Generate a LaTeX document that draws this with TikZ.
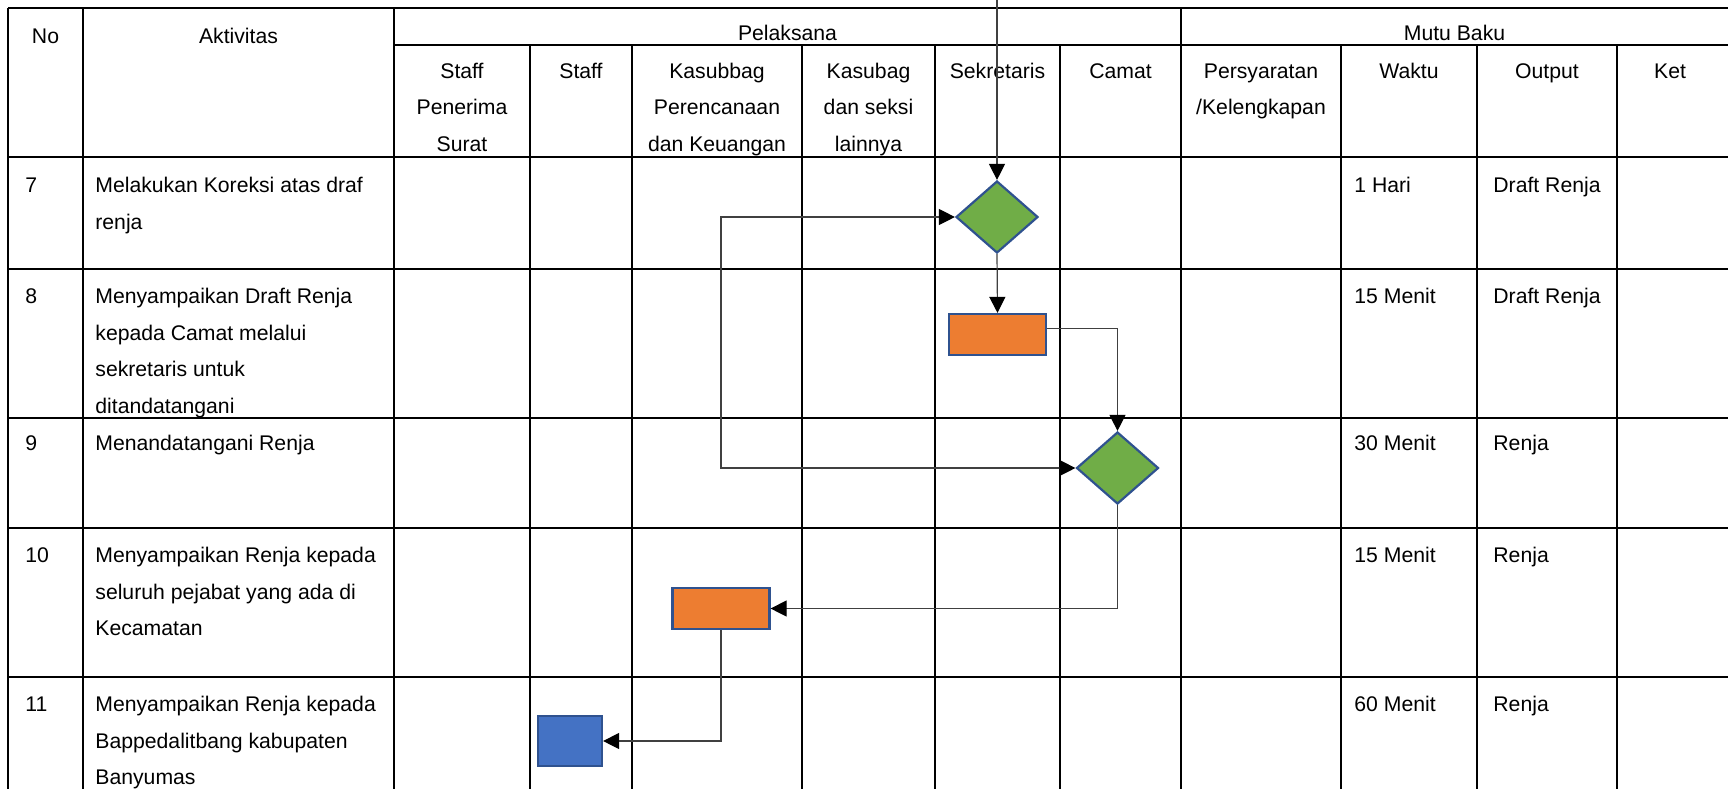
\documentclass[tikz,border=0pt]{standalone}
\usepackage{fontspec}
\setmainfont{Liberation Sans}
\usetikzlibrary{arrows.meta,shapes.geometric,calc}
\definecolor{dgreen}{HTML}{70AD47}
\definecolor{orng}{HTML}{ED7D31}
\definecolor{bfill}{HTML}{4472C4}
\definecolor{bord}{HTML}{2F528F}
\definecolor{conncol}{HTML}{404040}
\begin{document}
\begin{tikzpicture}[x=0.5pt,y=-0.5pt,
  grid/.style={line width=1pt,black},
  txt/.style={inner sep=0pt,font=\fontsize{10.6}{18.35}\selectfont},
  lt/.style={txt,anchor=base west,align=left},
  ct/.style={txt,anchor=base,align=center},
  dec/.style={diamond,draw=bord,line width=1.1pt,fill=dgreen,minimum width=41pt,minimum height=36pt,inner sep=0pt},
  proc/.style={rectangle,draw=bord,line width=1.1pt,fill=orng,minimum width=48.5pt,minimum height=20.5pt,inner sep=0pt},
  term/.style={rectangle,draw=bord,line width=1.1pt,fill=bfill,minimum width=32pt,minimum height=25pt,inner sep=0pt},
  tip/.tip={Triangle[length=8pt,width=8pt,color=black]},
  conn/.style={draw=conncol,line width=0.6pt,-tip},
  conn2/.style={draw=conncol,line width=0.6pt,tip-tip}]
\useasboundingbox (0,0) rectangle (1728,789);
% table grid
\draw[grid] (8,8) -- (1728,8);
\draw[grid] (394,44.5) -- (1728,44.5);
\foreach \y in {157,269,418,528,677} \draw[grid] (8,\y) -- (1728,\y);
\foreach \x in {8,83,394,1181} \draw[grid] (\x,8) -- (\x,789);
\foreach \x in {530,632,802,935,1060,1341,1477,1617} \draw[grid] (\x,44.5) -- (\x,789);
% header texts (multi-line nodes are placed at the baseline of their last line)
\node[ct] (hno) at (45.5,43) {No};
\node[ct] (hakt) at (238.5,43) {Aktivitas};
\node[ct] (hpel) at (787.5,40.5) {Pelaksana};
\node[ct] (hmutu) at (1454.5,40.5) {Mutu Baku};
\node[ct] (c1) at (462,151.4) {Staff\\Penerima\\Surat};
\node[ct] (c2) at (581,78) {Staff};
\node[ct] (c3) at (717,151.4) {Kasubbag\\Perencanaan\\dan Keuangan};
\node[ct] (c4) at (868.5,151.4) {Kasubag\\dan seksi\\lainnya};
\node[ct] (c5) at (997.5,78) {Sekretaris};
\node[ct] (c6) at (1120.5,78) {Camat};
\node[ct] (c7) at (1261,114.7) {Persyaratan\\/Kelengkapan};
\node[ct] (c8) at (1409,78) {Waktu};
\node[ct] (c9) at (1547,78) {Output};
\node[ct] (c10) at (1670,78) {Ket};
% rows
\node[lt] (n7) at (25,192.5) {7};
\node[lt] (a7) at (95,229.2) {Melakukan Koreksi atas draf\\renja};
\node[lt] (w7) at (1354,192.5) {1 Hari};
\node[lt] (o7) at (1493,192.5) {Draft Renja};
\node[lt] (n8) at (25,303.5) {8};
\node[lt] (a8) at (95,413.6) {Menyampaikan Draft Renja\\kepada Camat melalui\\sekretaris untuk\\ditandatangani};
\node[lt] (w8) at (1354,303.5) {15 Menit};
\node[lt] (o8) at (1493,303.5) {Draft Renja};
\node[lt] (n9) at (25,450) {9};
\node[lt] (a9) at (95,450) {Menandatangani Renja};
\node[lt] (w9) at (1354,450) {30 Menit};
\node[lt] (o9) at (1493,450) {Renja};
\node[lt] (n10) at (25,562.5) {10};
\node[lt] (a10) at (95,635.9) {Menyampaikan Renja kepada\\seluruh pejabat yang ada di\\Kecamatan};
\node[lt] (w10) at (1354,562.5) {15 Menit};
\node[lt] (o10) at (1493,562.5) {Renja};
\node[lt] (n11) at (25,711.5) {11};
\node[lt] (a11) at (95,784.9) {Menyampaikan Renja kepada\\Bappedalitbang kabupaten\\Banyumas};
\node[lt] (w11) at (1354,711.5) {60 Menit};
\node[lt] (o11) at (1493,711.5) {Renja};
% flow shapes
\coordinate (topin) at (997,0);
\node[dec] (d1) at (997,217) {};
\node[proc] (r1) at (997.5,334.5) {};
\node[dec] (d2) at (1117.5,468) {};
\node[proc] (r2) at (721,608.5) {};
\node[term] (b1) at (570,741) {};
% connectors
\draw[conn] (topin) -- (d1.north);
\draw[conn] (d1.south) -- (r1.north);
\draw[conn] ($(r1.east)+(0,-6)$) -| (d2.north);
\draw[conn2] (d1.west) -- (d1.west -| r2.center) |- (d2.west);
\draw[conn] (d2.south) |- (r2.east);
\draw[conn] (r2.south) |- (b1.east);
\end{tikzpicture}
\end{document}
